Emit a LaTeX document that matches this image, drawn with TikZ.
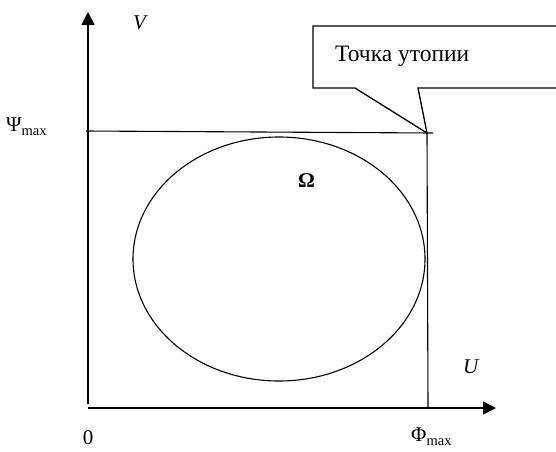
\documentclass[tikz,border=0pt]{standalone}
\usepackage{fontspec}
\setmainfont{Liberation Serif}
\usetikzlibrary{arrows.meta}
\newcommand{\mysub}[1]{\raisebox{-4pt}{\fontsize{14.5}{16}\selectfont #1}}
\begin{document}
\begin{tikzpicture}[x=1pt,y=-1pt,
  axis/.style={line width=1.6pt,-{Triangle[length=13pt,width=13pt]}},
  thin line/.style={line width=1.1pt},
  lbl/.style={font=\fontsize{21}{24}\selectfont,inner sep=0pt}]
\useasboundingbox (0,0) rectangle (556,451);
\clip (0,0) rectangle (556,451);
\coordinate (O) at (88,408);
\coordinate (Ytip) at (88,12);
\coordinate (Xtip) at (496,408);
\coordinate (PsiL) at (86,131);
\coordinate (utop) at (427,133);
\coordinate (PsiR) at (433,133);
\coordinate (PhiB) at (428,408);
\coordinate (cbL) at (355,88);
\coordinate (cbR) at (418,88);
% axes
\draw[axis] (88,404) -- (Ytip);
\draw[axis] (O) -- (Xtip);
% lines
\draw[thin line] (PsiL) -- (PsiR);
\draw[thin line] (utop) -- (PhiB);
% ellipse
\draw[line width=1.1pt] (279,259) ellipse [x radius=146, y radius=122];
% callout
\draw[line width=1.3pt] (570,26) -- (313,26) -- (313,88) -- (cbL) -- (utop) -- (cbR) -- (570,88);
\node[lbl,font=\fontsize{23.5}{26}\selectfont,anchor=base west] (callt) at (335,61) {Точка утопии};
% labels
\node[lbl,anchor=base west] (Vl) at (133,29) {\itshape V};
\node[lbl,anchor=base west] (Ul) at (463,373) {\itshape U};
\node[lbl,anchor=base west] (Om) at (298,187) {\bfseries Ω};
\node[lbl,anchor=base] (zero) at (88,444) {0};
\node[lbl,anchor=base west] (Psi) at (6,131) {Ψ\mysub{max}};
\node[lbl,anchor=base west] (Phi) at (411,441) {Φ\mysub{max}};
\end{tikzpicture}
\end{document}
